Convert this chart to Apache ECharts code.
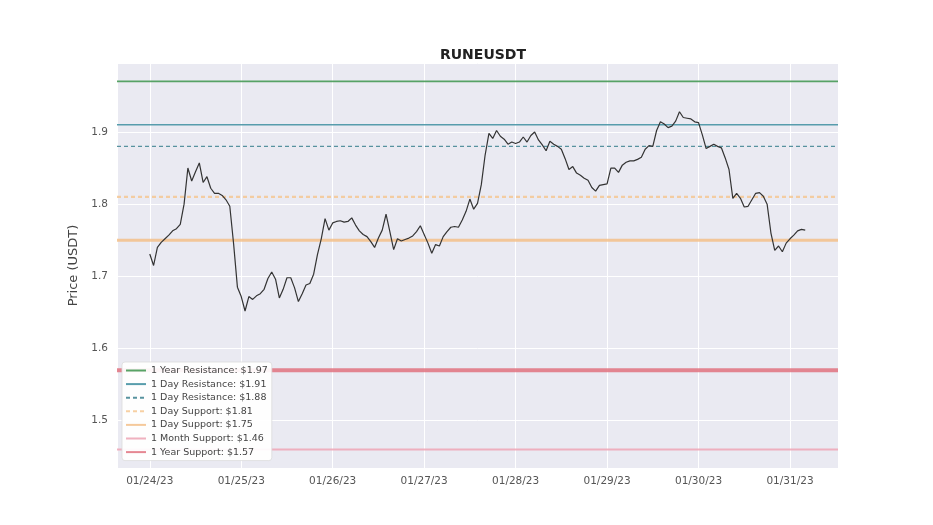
<!DOCTYPE html>
<html><head><meta charset="utf-8">
<script src="https://cdn.jsdelivr.net/npm/echarts@6/dist/echarts.min.js"></script>
<style>html,body{margin:0;padding:0;background:#fff}#c{width:933px;height:525px}</style>
</head><body><div id="c"></div>
<script>
// Hourly closes, first sample 01/24/23 00:00
const title = 'RUNEUSDT';
const yAxisName = 'Price (USDT)';
const xTickLabels = ['01/24/23','01/25/23','01/26/23','01/27/23','01/28/23','01/29/23','01/30/23','01/31/23'];
const prices = [
1.731,1.715,1.740,1.747,1.752,1.757,1.763,1.766,1.772,1.800,1.850,1.832,1.845,1.857,1.830,1.838,1.822,1.815,1.815,1.812,1.806,1.797,1.745,1.685,
1.672,1.652,1.672,1.668,1.673,1.676,1.682,1.697,1.706,1.696,1.670,1.682,1.698,1.698,1.684,1.665,1.676,1.688,1.690,1.703,1.730,1.752,1.780,1.764,
1.774,1.776,1.777,1.775,1.776,1.781,1.771,1.763,1.758,1.755,1.748,1.740,1.753,1.764,1.786,1.762,1.737,1.752,1.749,1.751,1.753,1.756,1.762,1.770,
1.758,1.746,1.732,1.744,1.742,1.755,1.762,1.768,1.769,1.768,1.778,1.790,1.807,1.793,1.801,1.827,1.868,1.898,1.891,1.902,1.894,1.890,1.883,1.886,
1.884,1.886,1.893,1.886,1.895,1.900,1.889,1.882,1.874,1.887,1.883,1.880,1.876,1.863,1.848,1.852,1.843,1.840,1.836,1.833,1.823,1.818,1.826,1.827,
1.828,1.850,1.850,1.844,1.854,1.858,1.860,1.860,1.862,1.865,1.876,1.881,1.880,1.902,1.914,1.911,1.906,1.908,1.915,1.928,1.920,1.919,1.918,1.914,
1.913,1.896,1.877,1.880,1.883,1.880,1.878,1.864,1.848,1.808,1.815,1.808,1.796,1.797,1.806,1.815,1.816,1.811,1.800,1.760,1.736,1.742,1.734,1.746,
1.752,1.757,1.763,1.765,1.764
];
const levelLabels = ['1 Year Resistance','1 Day Resistance','1 Day Resistance','1 Day Support','1 Day Support','1 Month Support','1 Year Support'];
const levelValues = [1.97, 1.91, 1.88, 1.81, 1.75, 1.46, 1.57];

const levelStyles = [
  {color:'#4f9e5e', width:1.6, type:'solid', opacity:0.95},
  {color:'#4f98a8', width:1.6, type:'solid', opacity:0.95},
  {color:'#4f8d9a', width:1.4, type:[4,3], opacity:0.95},
  {color:'#f5c48c', width:2.2, type:[4,3], opacity:0.8},
  {color:'#f3c08a', width:3, type:'solid', opacity:0.85},
  {color:'#eea9b8', width:2, type:'solid', opacity:0.9},
  {color:'#e0727f', width:4, type:'solid', opacity:0.85}
];

const n = prices.length;
const span = n - 1;
const xMin = -0.05 * span, xMax = span * 1.05;
const allVals = prices.concat(levelValues);
const lo = Math.min.apply(null, allVals), hi = Math.max.apply(null, allVals);
const yMin = lo - 0.05 * (hi - lo), yMax = hi + 0.05 * (hi - lo);

const levelNames = levelLabels.map((l, i) => l + ': $' + levelValues[i].toFixed(2));

const series = [{
  type: 'line', name: 'price', data: prices.map((v, i) => [i, v]),
  showSymbol: false, symbol: 'none', z: 3,
  lineStyle: {color: '#333333', width: 1.2}, silent: true
}];
levelValues.forEach((v, i) => {
  const s = levelStyles[i];
  series.push({
    type: 'line', name: levelNames[i], data: [[xMin, v], [xMax, v]],
    symbol: 'none', showSymbol: false, z: 2, silent: true,
    itemStyle: {color: s.color},
    lineStyle: {color: s.color, width: s.width, type: s.type, opacity: s.opacity}
  });
});

const chart = echarts.init(document.getElementById('c'), null, {renderer: 'canvas'});
const font = 'DejaVu Sans';
chart.setOption({
  animation: false,
  backgroundColor: '#ffffff',
  title: {text: title, left: 478, top: 43, textAlign: 'center',
    textStyle: {fontFamily: font, fontSize: 14, fontWeight: 'bold', color: '#222'}},
  grid: {left: 117, right: 95, top: 63, bottom: 57, show: true, backgroundColor: '#eaeaf2', borderWidth: 0},
  legend: {
    data: levelNames, orient: 'vertical', left: 122, top: 362, z: 10,
    itemWidth: 20, itemHeight: 8, itemGap: 2.6, padding: [3, 4, 3, 3],
    itemStyle: {opacity: 0},
    backgroundColor: 'rgba(255,255,255,0.93)', borderColor: 'rgba(220,220,220,0.8)', borderWidth: 1, borderRadius: 3,
    textStyle: {fontFamily: font, fontSize: 9.5, lineHeight: 11, color: '#444'}, selectedMode: false
  },
  xAxis: {
    type: 'value', min: xMin, max: xMax, minInterval: 24, maxInterval: 24,
    axisLine: {show: false}, axisTick: {show: false},
    axisLabel: {showMinLabel: false, showMaxLabel: false, margin: 8,
      fontFamily: font, fontSize: 10.5, color: '#555',
      formatter: v => xTickLabels[Math.round(v / 24)] || ''},
    splitLine: {show: true, lineStyle: {color: '#ffffff', width: 1}}
  },
  yAxis: {
    type: 'value', min: yMin, max: yMax, minInterval: 0.1, maxInterval: 0.1,
    name: yAxisName, nameLocation: 'middle', nameGap: 31, nameRotate: 90,
    nameTextStyle: {fontFamily: font, fontSize: 13, color: '#444'},
    axisLine: {show: false}, axisTick: {show: false},
    axisLabel: {showMinLabel: false, showMaxLabel: false, margin: 9,
      fontFamily: font, fontSize: 10.5, color: '#555', formatter: v => v.toFixed(1)},
    splitLine: {show: true, lineStyle: {color: '#ffffff', width: 1}}
  },
  series: series
});
</script></body></html>
